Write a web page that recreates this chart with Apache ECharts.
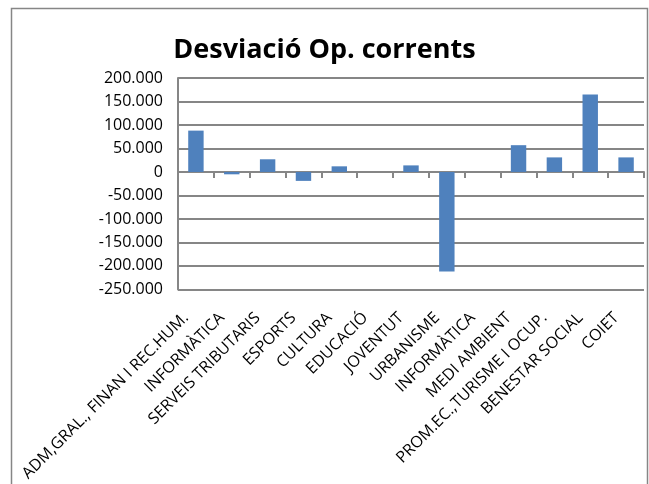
<!DOCTYPE html>
<html>
<head>
<meta charset="UTF-8">
<title>Desviació Op. corrents</title>
<script src="https://cdn.jsdelivr.net/npm/echarts@6/dist/echarts.min.js"></script>
<style>
  html, body { margin: 0; padding: 0; background: #fff; }
  #chart { width: 649px; height: 484px; }
</style>
</head>
<body>
<div id="chart"></div>
<script>
var categories = ['ADM,GRAL., FINAN I REC.HUM.', 'INFORMÀTICA', 'SERVEIS TRIBUTARIS', 'ESPORTS', 'CULTURA',
  'EDUCACIÓ', 'JOVENTUT', 'URBANISME', 'INFORMÀTICA', 'MEDI AMBIENT', 'PROM.EC.,TURISME I OCUP.',
  'BENESTAR SOCIAL', 'COIET'];
var desviacio = [88000, -5000, 27000, -19000, 12000, 0, 14000, -212000, 0, 57000, 31000, 165000, 31000];

// category names repeat (INFORMÀTICA twice), so the axis uses indexes
var idx = categories.map(function (c, i) { return i; });

function fmtNum(v) {
  var s = Math.abs(v).toString().replace(/\B(?=(\d{3})+(?!\d))/g, '.');
  return (v < 0 ? '-' : '') + s;
}

var chart = echarts.init(document.getElementById('chart'));
var gridColor = '#868686';

chart.setOption({
  animation: false,
  title: {
    text: 'Desviació Op. corrents',
    left: 'center',
    top: 32,
    textStyle: { fontFamily: 'Open Sans', fontWeight: 'bold', fontSize: 27, color: '#000' }
  },
  graphic: [{
    type: 'rect',
    shape: { x: 11.5, y: 8.5, width: 636, height: 520 },
    style: { fill: null, stroke: gridColor, lineWidth: 1.5 }
  }],
  grid: { left: 178, right: 5, top: 78, bottom: 194 },
  xAxis: [{
    type: 'category',
    data: idx,
    axisLine: { onZero: true, lineStyle: { color: gridColor, width: 2 } },
    axisTick: { show: true, inside: false, length: 6, lineStyle: { color: gridColor, width: 2 } },
    axisLabel: { show: false }
  }, {
    type: 'category',
    data: idx,
    position: 'bottom',
    axisLine: { show: false, onZero: false },
    axisTick: { show: false },
    axisLabel: {
      rotate: 45,
      margin: 16,
      padding: [0, 14, 0, 0],
      fontFamily: 'Open Sans',
      fontSize: 16,
      color: '#000',
      formatter: function (v) { return categories[v]; }
    }
  }],
  yAxis: {
    type: 'value',
    min: -250000,
    max: 200000,
    interval: 50000,
    axisLine: { show: true, lineStyle: { color: gridColor, width: 2 } },
    axisTick: { show: false },
    splitLine: { lineStyle: { color: gridColor, width: 2 } },
    axisLabel: {
      margin: 15,
      fontFamily: 'Open Sans',
      fontSize: 16,
      color: '#000',
      formatter: fmtNum
    }
  },
  series: [{
    type: 'bar',
    data: desviacio,
    xAxisIndex: 0,
    barWidth: '43%',
    itemStyle: { color: '#4F81BD' }
  }]
});
</script>
</body>
</html>
